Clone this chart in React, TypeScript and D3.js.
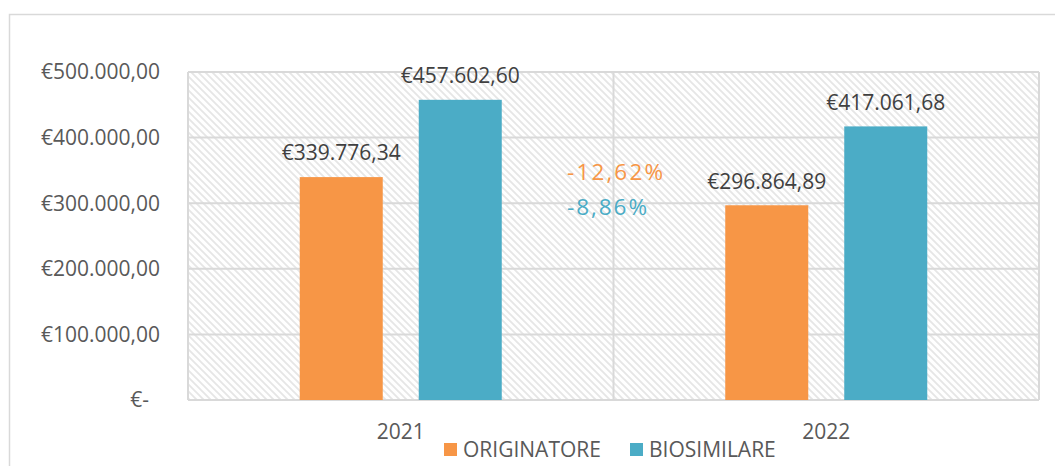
import React from "react";
import * as d3 from "d3";

const categories = ["2021", "2022"];
const seriesNames = ["ORIGINATORE", "BIOSIMILARE"];
const originatore = [339776.34, 296864.89];
const biosimilare = [457602.6, 417061.68];
const originatoreLabels = ["€339.776,34", "€296.864,89"];
const biosimilareLabels = ["€457.602,60", "€417.061,68"];
const yTicks = [0, 100000, 200000, 300000, 400000, 500000];
const yTickLabels = ["€-", "€100.000,00", "€200.000,00", "€300.000,00", "€400.000,00", "€500.000,00"];
const changeLabels = ["-12,62%", "-8,86%"];

const COLORS = ["#F79646", "#4BACC6"];
const FONT = "Open Sans, Noto Sans, sans-serif";

export default function App() {
  const W = 1055, H = 466;
  const left = 188, right = 1039, top = 72, bottom = 400;
  const x = d3.scaleBand<string>().domain(categories).range([left, right]).paddingInner(0).paddingOuter(0);
  const y = d3.scaleLinear().domain([0, 500000]).range([bottom, top]);
  const inner = d3.scaleBand<string>().domain(seriesNames).range([0, x.bandwidth()]).paddingInner(0.3025).paddingOuter(0.939);
  const series = [originatore, biosimilare];
  const labels = [originatoreLabels, biosimilareLabels];
  const fs = 21;

  const bars: { key: string; bx: number; v: number; si: number; ci: number }[] = [];
  categories.forEach((c, ci) =>
    seriesNames.forEach((s, si) => {
      bars.push({ key: c + s, bx: (x(c) as number) + (inner(s) as number), v: series[si][ci], si, ci });
    })
  );

  return (
    <svg width={W} height={H} style={{ position: "absolute", left: 0, top: 0, background: "#fff" }} fontFamily={FONT}>
      <defs>
        <pattern id="hatch" patternUnits="userSpaceOnUse" width="7" height="7">
          <rect width="7" height="7" fill="#fff" />
          <path d="M-1,-1 L8,8 M-1,6 L1,8 M6,-1 L8,1" stroke="#e6e6e6" strokeWidth="1.8" />
        </pattern>
      </defs>
      <rect x={9.5} y={14.5} width={W + 10} height={H + 10} fill="none" stroke="#d9d9d9" strokeWidth={1.5} />
      <rect x={left} y={top} width={right - left} height={bottom - top} fill="url(#hatch)" />
      {yTicks.map((t) => (
        <line key={t} x1={left} x2={right} y1={y(t)} y2={y(t)} stroke="#d9d9d9" strokeWidth={2} />
      ))}
      <line x1={left} x2={left} y1={top} y2={bottom} stroke="#d9d9d9" strokeWidth={2} />
      <line x1={right} x2={right} y1={top} y2={bottom} stroke="#d9d9d9" strokeWidth={2} />
      <line x1={x(categories[1]) as number} x2={x(categories[1]) as number} y1={top} y2={bottom} stroke="#d9d9d9" strokeWidth={2} />
      {yTicks.map((t, i) => (
        <text key={t} x={i === 0 ? 149 : 160} y={y(t)} dy="0.35em" textAnchor="end" fontSize={fs} fill="#595959">
          {yTickLabels[i]}
        </text>
      ))}
      {bars.map((b) => (
        <rect key={b.key} x={b.bx} y={y(b.v)} width={inner.bandwidth()} height={bottom - y(b.v)} fill={COLORS[b.si]} />
      ))}
      {bars.map((b) => (
        <text key={b.key + "l"} x={b.bx + inner.bandwidth() / 2} y={y(b.v) - 24} dy="0.35em" textAnchor="middle" fontSize={fs} fill="#404040">
          {labels[b.si][b.ci]}
        </text>
      ))}
      {categories.map((c) => (
        <text key={c} x={(x(c) as number) + x.bandwidth() / 2} y={432} dy="0.35em" textAnchor="middle" fontSize={fs} fill="#595959">
          {c}
        </text>
      ))}
      <text x={567} y={172} dy="0.35em" fontSize={22.5} fill={COLORS[0]} textLength={96} lengthAdjust="spacing">{changeLabels[0]}</text>
      <text x={567} y={207} dy="0.35em" fontSize={22.5} fill={COLORS[1]} textLength={80} lengthAdjust="spacing">{changeLabels[1]}</text>
      {seriesNames.map((s, i) => {
        const lx = i === 0 ? 444 : 630;
        return (
          <g key={s}>
            <rect x={lx} y={443} width={13} height={13} fill={COLORS[i]} />
            <text x={lx + 19} y={450} dy="0.35em" fontSize={fs} fill="#595959">{s}</text>
          </g>
        );
      })}
    </svg>
  );
}
